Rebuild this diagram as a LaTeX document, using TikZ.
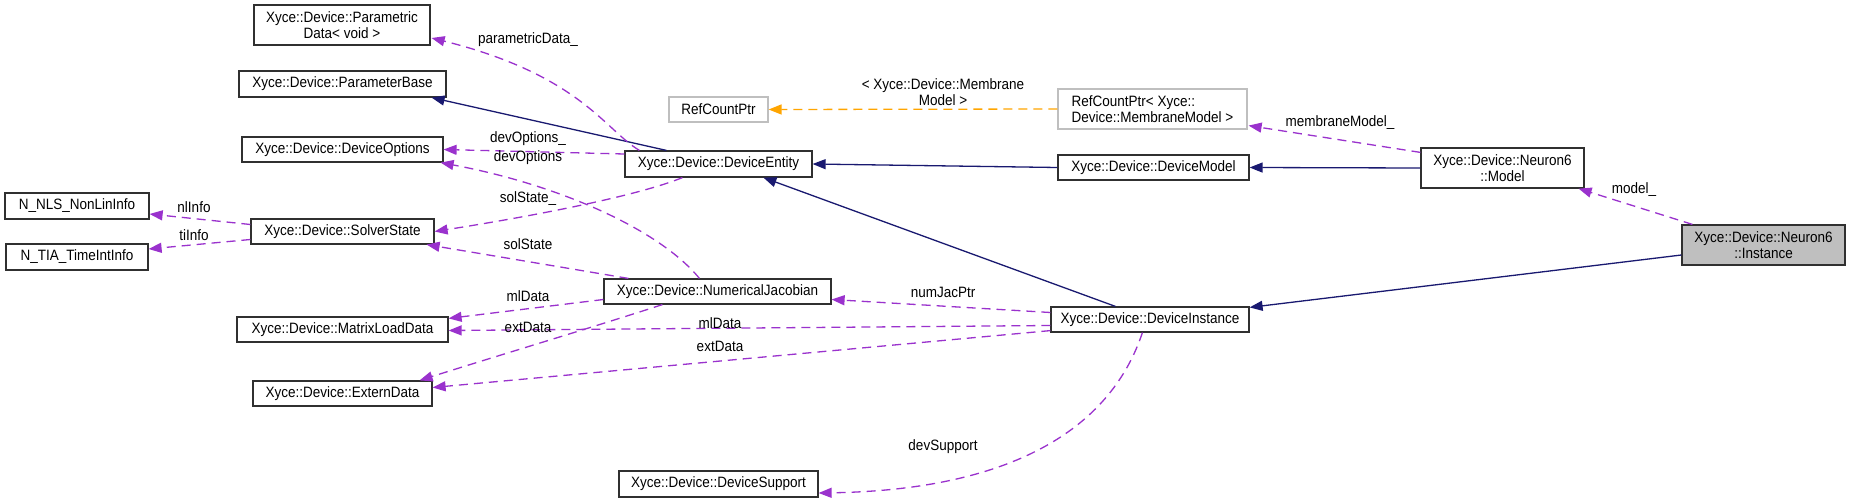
\documentclass[tikz,border=0pt]{standalone}
\usepackage{fontspec}
\setmainfont[FakeStretch=0.9]{Liberation Sans}
\usetikzlibrary{arrows.meta,calc}
\definecolor{navy}{HTML}{191970}
\definecolor{dpurple}{HTML}{9A32CD}
\definecolor{dorange}{HTML}{FFA500}
\definecolor{lgray}{HTML}{BFBFBF}
\definecolor{boxline}{HTML}{303030}
\begin{document}
\begin{tikzpicture}[x=1pt,y=-1pt,
  txt/.style={font=\fontsize{15}{15.5}\selectfont, align=center, inner sep=0pt},
  cls/.style={txt, draw=boxline, fill=white, line width=1.2pt},
  tmpl/.style={txt, draw=lgray, fill=white, line width=1.2pt},
  focus/.style={txt, draw=boxline, fill=lgray, line width=1.2pt},
  inh/.style={draw=navy, line width=1.3pt, -{Triangle[length=13pt,width=10pt]}},
  use/.style={draw=dpurple, line width=1.3pt, dash pattern=on 9pt off 6pt, -{Triangle[length=13pt,width=10pt]}},
  inst/.style={draw=dorange, line width=1.3pt, dash pattern=on 9pt off 6pt, -{Triangle[length=13pt,width=10pt]}},
  lbl/.style={txt}
]
\path[fill=white, use as bounding box] (0,0) rectangle (1851,503);

% class boxes
\node[cls, minimum width=176pt, minimum height=40pt] (pd) at (342,25) {Xyce::Device::Parametric\\Data< void >};
\node[cls, minimum width=207pt, minimum height=26pt] (pb) at (342.5,84) {Xyce::Device::ParameterBase};
\node[cls, minimum width=201pt, minimum height=25pt] (dopt) at (342.5,149.5) {Xyce::Device::DeviceOptions};
\node[cls, minimum width=144pt, minimum height=26pt] (nls) at (77,206) {N\_NLS\_NonLinInfo};
\node[cls, minimum width=183pt, minimum height=25pt] (ss) at (342.5,231.5) {Xyce::Device::SolverState};
\node[cls, minimum width=142pt, minimum height=26pt] (tia) at (77,257) {N\_TIA\_TimeIntInfo};
\node[cls, minimum width=211pt, minimum height=25pt] (mld) at (342.5,329.5) {Xyce::Device::MatrixLoadData};
\node[cls, minimum width=179pt, minimum height=25pt] (ext) at (342.5,393.5) {Xyce::Device::ExternData};
\node[cls, minimum width=227pt, minimum height=25pt] (nj) at (717.5,291.5) {Xyce::Device::NumericalJacobian};
\node[cls, minimum width=199pt, minimum height=26pt] (ds) at (718.5,484) {Xyce::Device::DeviceSupport};
\node[cls, minimum width=187pt, minimum height=26pt] (de) at (718.5,164) {Xyce::Device::DeviceEntity};
\node[tmpl, minimum width=99pt, minimum height=25pt] (rcp) at (718.5,109.5) {RefCountPtr};
\node[tmpl, minimum width=189pt, minimum height=40pt, align=left] (rcpmm) at (1152.5,109) {RefCountPtr< Xyce::\\Device::MembraneModel >};
\node[cls, minimum width=191pt, minimum height=25pt] (dm) at (1153.5,167.5) {Xyce::Device::DeviceModel};
\node[cls, minimum width=198pt, minimum height=25pt] (di) at (1150,319.5) {Xyce::Device::DeviceInstance};
\node[cls, minimum width=163pt, minimum height=40pt] (nm) at (1502.5,168) {Xyce::Device::Neuron6\\::Model};
\node[focus, minimum width=163pt, minimum height=40pt] (ni) at (1763.5,245) {Xyce::Device::Neuron6\\::Instance};

% inheritance
\draw[inh] ($(de.north west)+(42,0)$) -- ($(pb.south east)+(-15,0)$);
\draw[inh] (dm.west) -- (de.east);
\draw[inh] ($(di.north west)+(65,0)$) -- ($(de.south west)+(139,0)$);
\draw[inh] (nm.west) -- (dm.east);
\draw[inh] ($(ni.west)+(0,10)$) -- ($(di.north east)+(0,1)$);

% template instantiation
\draw[inst] (rcpmm.west) -- (rcp.east);
\node[lbl] (l21) at (943,92) {< Xyce::Device::Membrane\\Model >};

% usage
\draw[use] ($(de.north west)+(15,0)$) .. controls (605,130) and (580,75) .. ($(pd.east)+(1,13)$);
\node[lbl] (l6) at (528,40) {parametricData\_};
\draw[use] ($(de.west)+(0,-10)$) -- (dopt.east);
\node[lbl] (l7) at (528,139) {devOptions\_};
\draw[use] ($(nj.north west)+(96,0)$) .. controls (660,230) and (560,185) .. ($(dopt.south east)+(-3,0)$);
\node[lbl] (l8) at (528,158) {devOptions};
\draw[use] ($(de.south west)+(58,0)$) .. controls (640,195) and (540,215) .. (ss.east);
\node[lbl] (l9) at (528,199) {solState\_};
\draw[use] ($(nj.north west)+(25,0)$) -- ($(ss.south east)+(-8,0)$);
\node[lbl] (l10) at (528,244) {solState};
\draw[use] ($(ss.west)+(0,-7)$) -- ($(nls.east)+(0,8)$);
\node[lbl] (l11) at (194,207) {nlInfo};
\draw[use] ($(ss.west)+(0,8)$) -- ($(tia.east)+(0,-8)$);
\node[lbl] (l12) at (194,235) {tiInfo};
\draw[use] ($(nj.west)+(0,8)$) -- ($(mld.north east)+(0,2)$);
\node[lbl] (l13) at (528,296) {mlData};
\draw[use] ($(di.west)+(0,6)$) -- ($(mld.east)+(0,1)$);
\node[lbl] (l14) at (720,323) {mlData};
\draw[use] ($(nj.south west)+(59,0)$) .. controls (600,325) and (500,355) .. ($(ext.north east)+(-13,0)$);
\node[lbl] (l15) at (528,327) {extData};
\draw[use] ($(di.south west)+(0,-2)$) -- ($(ext.east)+(0,-6)$);
\node[lbl] (l16) at (720,346) {extData};
\draw[use] ($(di.west)+(0,-7)$) -- ($(nj.east)+(0,8)$);
\node[lbl] (l17) at (943,292) {numJacPtr};
\draw[use] ($(di.south west)+(92,0)$) .. controls (1110,430) and (1010,490) .. ($(ds.east)+(0,9)$);
\node[lbl] (l18) at (943,447) {devSupport};
\draw[use] ($(nm.north west)+(0,5)$) -- ($(rcpmm.south east)+(1,-4)$);
\node[lbl] (l19) at (1340,123) {membraneModel\_};
\draw[use] ($(ni.north west)+(11,0)$) -- ($(nm.south east)+(-6,0)$);
\node[lbl] (l20) at (1634,190) {model\_};
\end{tikzpicture}
\end{document}
